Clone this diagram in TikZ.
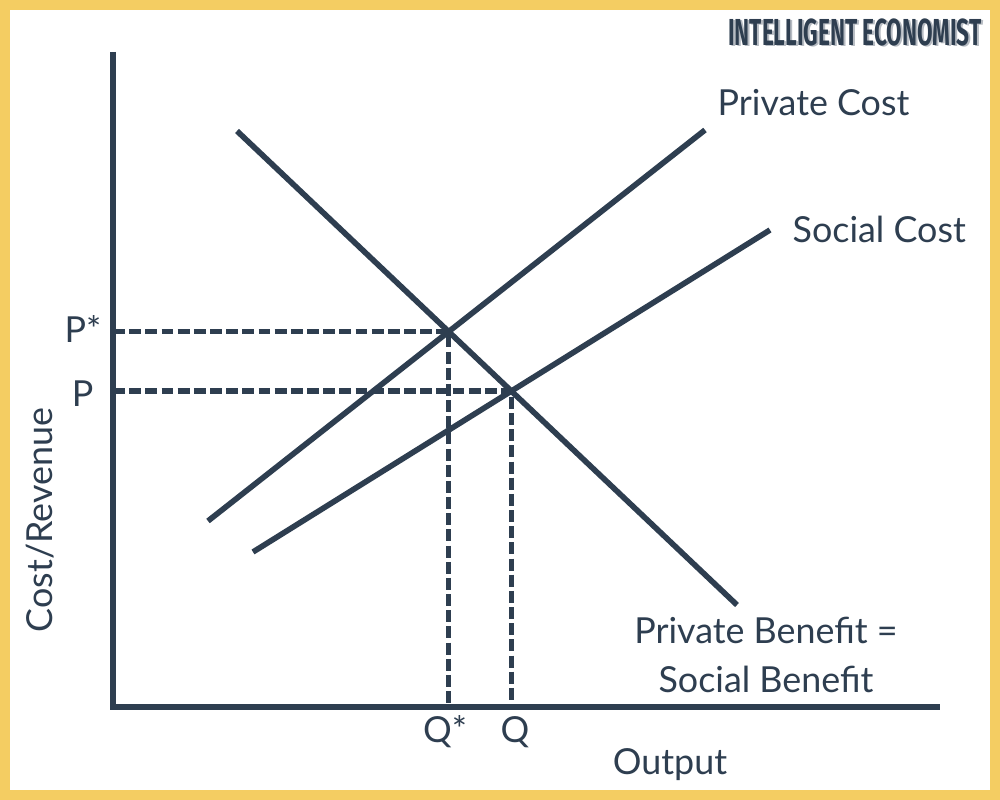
\documentclass[tikz,border=0pt]{standalone}
\usepackage{fontspec}
\setmainfont{Lato}
\newfontfamily\logofont{Fira Sans}
\usetikzlibrary{positioning, calc}
\definecolor{slate}{HTML}{2E3E50}
\definecolor{banner}{HTML}{F4CD62}

\begin{document}
\begin{tikzpicture}[
  x=0.1mm, y=-0.1mm,
  curve/.style={line width=1.6pt, draw=slate},
  guide/.style={line width=1.6pt, draw=slate, dash pattern=on 3.4pt off 1.2pt},
  lbl/.style={text=slate, font=\fontsize{10.2}{12}\selectfont, inner sep=0pt}
]
% frame
\fill[banner] (0,0) rectangle (1000,800);
\fill[white] (10,10) rectangle (990,790);
\useasboundingbox (0,0) rectangle (1000,800);
% axes
\coordinate (ytop) at (113,52);
\coordinate (origin) at (113,707);
\coordinate (xend) at (940,707);
\draw[curve] (ytop) -- (origin) -- (xend);
% curve end points
\coordinate (pc0) at (208,521);
\coordinate (pc1) at (705,130);
\coordinate (sc0) at (253,552);
\coordinate (sc1) at (770,230);
\coordinate (pb0) at (237,131);
\coordinate (pb1) at (737,605);
\coordinate (eqstar) at (intersection of pc0--pc1 and pb0--pb1);
\coordinate (eq) at (intersection of sc0--sc1 and pb0--pb1);
% dashed guides
\draw[guide] (eqstar -| origin) -- (eqstar) -- (eqstar |- origin);
\draw[guide] (eq -| origin) -- (eq) -- (eq |- origin);
% curves
\draw[curve] (pc0) -- (pc1);
\draw[curve] (sc0) -- (sc1);
\draw[curve] (pb0) -- (pb1);
% labels
\node[lbl, anchor=base east] (pstar) at (102,343) {P*};
\node[lbl, anchor=base east] (pval) at (94,407) {P};
\node[lbl, anchor=base] (qstar) at (445,743) {Q*};
\node[lbl, anchor=base] (qval) at (515,743) {Q};
\node[lbl, anchor=base] (output) at (670,775) {Output};
\node[lbl, rotate=90, anchor=base] (costrev) at (52,520) {Cost/Revenue};
\node[lbl, anchor=base west] (pclabel) at (717,116) {Private Cost};
\node[lbl, anchor=base west] (sclabel) at (792,243) {Social Cost};
\node[lbl, align=center, anchor=base, font=\fontsize{10.2}{14.2}\selectfont]
  (pblabel) at (766,693) {Private Benefit =\\Social Benefit};
% logo
\node[text=slate!35, inner sep=0pt, anchor=base east, xscale=0.6,
  font=\logofont\bfseries\fontsize{10.7}{12}\selectfont] (logoshade) at (984,47)
  {INTELLIGENT ECONOMIST};
\node[text=slate, inner sep=0pt, anchor=base east, xscale=0.6,
  font=\logofont\bfseries\fontsize{10.7}{12}\selectfont] (logo) at (982,46)
  {INTELLIGENT ECONOMIST};
\end{tikzpicture}
\end{document}
